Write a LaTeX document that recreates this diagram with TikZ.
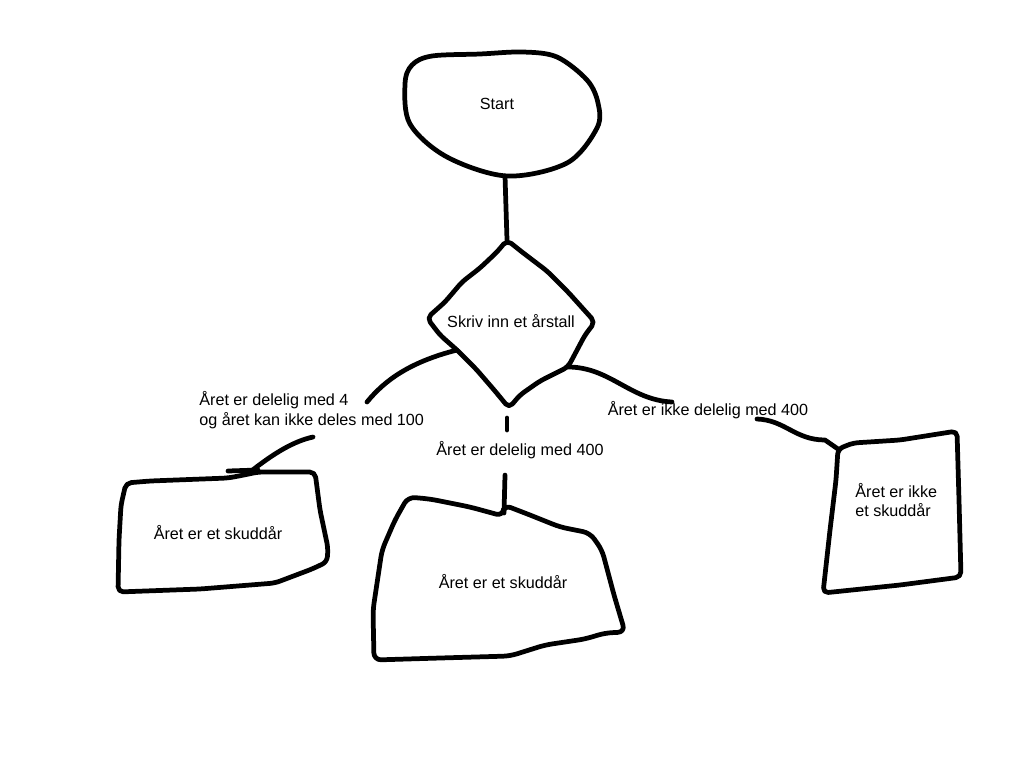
\documentclass[tikz,border=0pt]{standalone}
\usepackage{fontspec}
\setmainfont{Liberation Sans}
\usepackage{tikz}

\begin{document}
\begin{tikzpicture}[x=0.02cm,y=-0.02cm,
  pen/.style={line width=2.7pt,line cap=round,line join=round},
  lbl/.style={inner sep=0pt,font=\fontsize{9.2}{11.3}\selectfont}]
\useasboundingbox[fill=white] (0,0) rectangle (1024,768);

% texts
\path (497,104) node (start) [lbl] {Start};
\path (511,321) node (input) [lbl] {Skriv inn et årstall};
\path (199,410) node (by4) [lbl,anchor=west,align=left] {Året er delelig med 4\\og året kan ikke deles med 100};
\path (520,450) node (by400) [lbl] {Året er delelig med 400};
\path (708,410) node (not400) [lbl] {Året er ikke delelig med 400};
\path (218,533) node (leapA) [lbl] {Året er et skuddår};
\path (503,582) node (leapB) [lbl] {Året er et skuddår};
\path (855,500) node (noleap) [lbl,anchor=west,align=left] {Året er ikke\\et skuddår};

% start
\draw[pen] plot[smooth cycle,tension=0.55] coordinates {(412,65) (432,56) (480,54) (523,52) (557,57) (587,80) (598,103) (597,128) (567,163) (507,176) (447,157) (410,124) (405,84)};

% diamond
\draw[pen,rounded corners=3pt] (507,240) -- (522,252) -- (547,271) -- (568,292) -- (595,322)
  -- (585,335) -- (576,352) -- (568,367) -- (540,381) -- (520,395) -- (509,408)
  -- (495,391) -- (476,369) -- (457,350) -- (440,335) -- (427,318) -- (445,302)
  -- (462,282) -- (480,268) -- (497,252) -- cycle;

% boxes
\draw[pen,rounded corners=3pt] (126,483) -- (150,481) -- (228,478) -- (244,475) -- (258,472) -- (315,472)
  -- (320,510) -- (328,548) -- (327,562) -- (312,569) -- (275,583) -- (200,589) -- (118,592)
  -- (119,540) -- (121,505) -- cycle;
\draw[pen] (228,471) -- (258,470);
\draw[pen,rounded corners=4pt] (408,497) -- (430,499) -- (470,507) -- (503,516) -- (504,505)
  -- (530,515) -- (560,527) -- (590,533) -- (602,550) -- (614,595) -- (625,632) -- (605,633)
  -- (585,639) -- (545,645) -- (510,656) -- (440,658) -- (374,660) -- (373,610) -- (382,550)
  -- (395,520) -- cycle;
\draw[pen,rounded corners=3pt] (838,449) -- (853,443) -- (900,440) -- (957,431) -- (959,500)
  -- (961,577) -- (900,585) -- (823,593) -- (830,530) -- (836,480) -- cycle;

% connectors
\coordinate (start-s) at (505,176);
\coordinate (input-n) at (507,240);
\coordinate (input-s) at (509,408);
\coordinate (input-sw) at (457,350);
\coordinate (input-se) at (568,367);
\coordinate (by4-e) at (367,402);
\coordinate (by4-s) at (313,437);
\coordinate (leapA-n) at (250,472);
\coordinate (leapB-n) at (504,513);
\coordinate (not400-w) at (672,402);
\coordinate (not400-s) at (757,419);
\coordinate (noleap-nw) at (838,449);

\draw[pen] (start-s) -- (input-n);
\draw[pen] (input-sw) .. controls (410,362) and (385,380) .. (by4-e);
\draw[pen] (by4-s) .. controls (290,442) and (268,458) .. (leapA-n);
\draw[pen] (input-s) ++(-2,10) -- ++(0,12);
\draw[pen] (by400.south) ++(-15,16) -- (leapB-n);
\draw[pen] (input-se) .. controls (610,367) and (630,400) .. (not400-w);
\draw[pen] (not400-s) .. controls (785,420) and (795,440) .. (825,440) -- (noleap-nw);
\end{tikzpicture}
\end{document}
